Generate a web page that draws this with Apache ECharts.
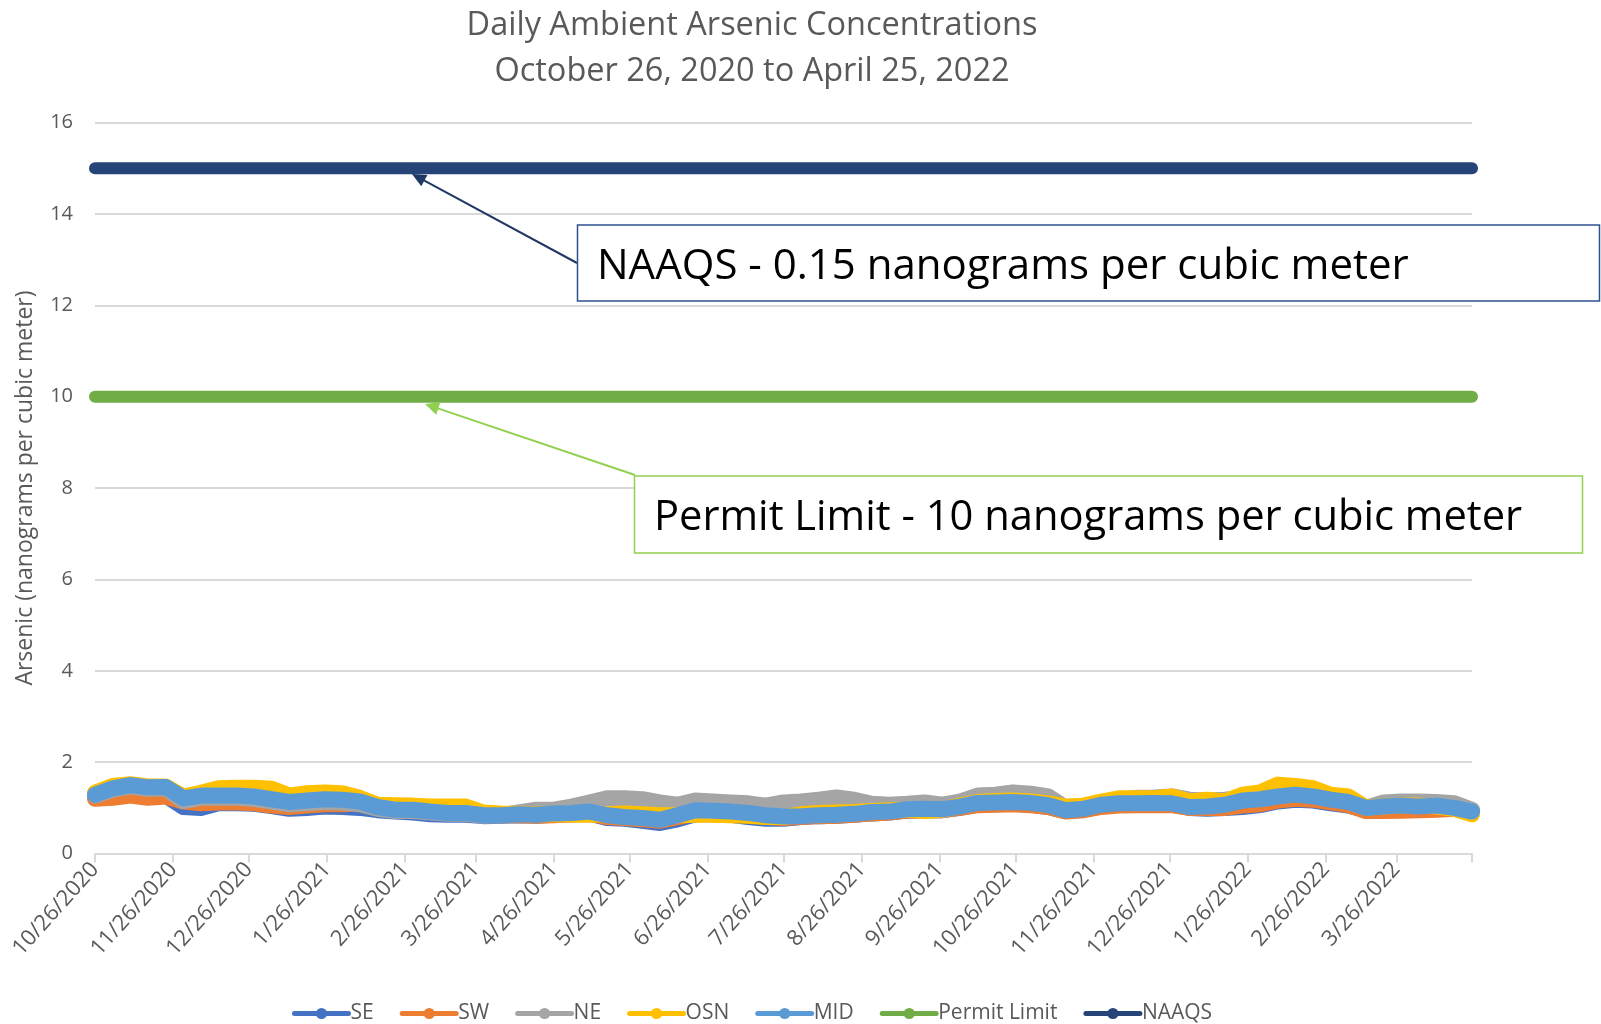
<!DOCTYPE html>
<html>
<head>
<meta charset="utf-8">
<script src="https://cdn.jsdelivr.net/npm/echarts@6/dist/echarts.min.js"></script>
<style>
html,body{margin:0;padding:0;background:#fff;}
#c{width:1601px;height:1024px;}
</style>
</head>
<body>
<div id="c"></div>
<script>
// ---- data (weekly readings, starting 10/26/2020, every 7 days) ----
const startDate = '2020-10-26';
const endDate = '2022-04-25';
const seriesNames = ['SE', 'SW', 'NE', 'OSN', 'MID', 'Permit Limit', 'NAAQS'];
const SE = [1.25,1.30,1.33,1.27,1.27,1.02,1.00,1.10,1.10,1.09,1.04,0.98,1.00,1.03,1.02,1.00,0.95,0.92,0.90,0.86,
            0.85,0.85,0.82,0.83,0.84,0.83,0.85,0.86,0.88,0.78,0.76,0.72,0.67,0.75,0.86,0.86,0.85,0.80,0.76,0.76,
            0.80,0.82,0.83,0.85,0.88,0.90,0.94,0.95,0.95,1.00,1.07,1.08,1.09,1.07,1.02,0.93,0.96,1.04,1.07,1.07,
            1.08,1.07,1.00,0.98,1.00,1.02,1.06,1.14,1.18,1.16,1.10,1.05,0.95,0.95,0.97,0.97,0.99,0.98,0.92];
const SW = [1.20,1.22,1.27,1.22,1.25,1.14,1.10,1.12,1.12,1.10,1.05,1.02,1.05,1.08,1.08,1.10,1.05,1.04,1.00,1.00,
            1.00,0.92,0.85,0.84,0.84,0.83,0.84,0.86,0.88,0.80,0.78,0.75,0.72,0.80,0.88,0.88,0.86,0.84,0.80,0.78,
            0.80,0.82,0.83,0.85,0.88,0.90,0.94,0.95,0.95,1.00,1.06,1.07,1.08,1.06,1.02,0.92,0.95,1.02,1.05,1.06,
            1.06,1.06,1.00,1.00,1.00,1.05,1.08,1.16,1.20,1.18,1.12,1.06,0.93,0.93,0.94,0.95,0.96,0.98,0.92];
const NE = [1.27,1.40,1.47,1.42,1.43,1.15,1.22,1.22,1.22,1.20,1.14,1.08,1.10,1.13,1.12,1.08,0.98,0.93,0.93,0.90,
            0.87,0.87,0.83,0.84,0.90,0.96,0.96,1.03,1.12,1.21,1.21,1.19,1.12,1.07,1.16,1.14,1.12,1.10,1.05,1.12,
            1.14,1.18,1.23,1.18,1.09,1.07,1.09,1.12,1.07,1.14,1.27,1.29,1.34,1.31,1.25,1.00,1.02,1.10,1.18,1.22,
            1.23,1.25,1.18,1.16,1.18,1.22,1.25,1.35,1.35,1.32,1.22,1.18,1.00,1.12,1.14,1.14,1.13,1.10,0.96];
const OSN = [1.33,1.48,1.52,1.47,1.47,1.25,1.33,1.43,1.44,1.44,1.42,1.27,1.32,1.34,1.32,1.22,1.07,1.06,1.05,1.03,
            1.03,1.03,0.90,0.88,0.87,0.86,0.86,0.85,0.85,0.86,0.88,0.86,0.84,0.84,0.85,0.85,0.84,0.83,0.80,0.80,
            0.86,0.89,0.90,0.91,0.93,0.95,0.96,0.93,0.96,1.05,1.13,1.15,1.16,1.14,1.10,1.03,1.05,1.14,1.21,1.21,
            1.21,1.25,1.14,1.18,1.14,1.29,1.34,1.51,1.48,1.43,1.29,1.25,1.01,1.03,1.05,1.05,1.03,0.98,0.86];
const MID = [1.29,1.43,1.50,1.45,1.46,1.21,1.27,1.27,1.27,1.25,1.19,1.13,1.16,1.19,1.18,1.14,1.02,0.96,0.96,0.92,
            0.89,0.89,0.84,0.84,0.86,0.85,0.88,0.89,0.92,0.84,0.80,0.78,0.74,0.84,0.95,0.94,0.92,0.89,0.84,0.81,
            0.82,0.84,0.85,0.87,0.91,0.92,0.97,0.98,0.97,1.03,1.11,1.12,1.13,1.11,1.06,0.95,0.98,1.07,1.10,1.10,
            1.11,1.10,1.02,1.03,1.07,1.16,1.19,1.25,1.29,1.25,1.18,1.13,1.00,1.03,1.05,1.03,1.05,1.00,0.92];
const permitLimit = 10;
const naaqs = 15;
const yTicks = {min: 0, max: 16, interval: 2};

// ---- build axis categories (daily) ----
function fmt(d){ return (d.getUTCMonth()+1) + '/' + d.getUTCDate() + '/' + d.getUTCFullYear(); }
const days = [];
{
  let d = new Date(startDate + 'T00:00:00Z');
  const e = new Date(endDate + 'T00:00:00Z');
  while (d <= e) { days.push(fmt(d)); d = new Date(d.getTime() + 86400000); }
}
const sampleDates = [];
for (let i = 0; i < MID.length; i++) sampleDates.push(days[i * 7]);
function pairs(arr){ return arr.map((v, i) => [sampleDates[i], v]); }

const colors = {SE:'#4472C4', SW:'#ED7D31', NE:'#A5A5A5', OSN:'#FFC000', MID:'#5B9BD5', 'Permit Limit':'#70AD47', NAAQS:'#264478'};
const values = {SE, SW, NE, OSN, MID};

const chart = echarts.init(document.getElementById('c'), null, {renderer:'canvas'});
const FONT = 'Open Sans';

const series = ['SE','SW','NE','OSN','MID'].map(n => ({
  name: n, type: 'line', data: pairs(values[n]),
  symbol: 'circle', symbolSize: 12, showSymbol: false, smooth: false,
  lineStyle: {width: 16, color: colors[n], cap: 'round', join: 'round'},
  itemStyle: {color: colors[n]},
  animation: false, z: 2
}));
series.push({
  name: 'Permit Limit', type: 'line',
  data: [[days[0], permitLimit], [days[days.length-1], permitLimit]],
  symbol: 'circle', symbolSize: 12, showSymbol: false,
  lineStyle: {width: 12, color: colors['Permit Limit'], cap: 'round'},
  itemStyle: {color: colors['Permit Limit']}, animation: false, z: 2
});
series.push({
  name: 'NAAQS', type: 'line',
  data: [[days[0], naaqs], [days[days.length-1], naaqs]],
  symbol: 'circle', symbolSize: 12, showSymbol: false,
  lineStyle: {width: 12, color: colors['NAAQS'], cap: 'round'},
  itemStyle: {color: colors['NAAQS']}, animation: false, z: 2
});

function arrow(x1, y1, x2, y2, color, w) {
  const dx = x2 - x1, dy = y2 - y1, L = Math.hypot(dx, dy);
  const ux = dx / L, uy = dy / L, hl = 14, hw = 6.5;
  const bx = x2 - ux * hl, by = y2 - uy * hl;
  const nx = -uy, ny = ux;
  return [
    {type:'line', shape:{x1, y1, x2: bx + ux*2, y2: by + uy*2}, style:{stroke: color, lineWidth: w}, z: 10},
    {type:'polygon', shape:{points:[[x2,y2],[bx+nx*hw,by+ny*hw],[bx-nx*hw,by-ny*hw]]}, style:{fill: color}, z: 10}
  ];
}

const graphics = [].concat(
  arrow(577, 263, 412, 174, '#203864', 2),
  arrow(635, 475, 425, 404, '#92D050', 2),
  [
    {type:'rect', shape:{x: 577.5, y: 225, width: 1022, height: 76}, style:{fill:'#fff', stroke:'#2F528F', lineWidth: 1.5}, z: 11},
    {type:'text', x: 597, y: 267, style:{text:'NAAQS - 0.15 nanograms per cubic meter', font:'42px "' + FONT + '"', fill:'#000', textVerticalAlign:'middle'}, z: 12},
    {type:'rect', shape:{x: 634.5, y: 476, width: 948, height: 77}, style:{fill:'#fff', stroke:'#92D050', lineWidth: 1.5}, z: 11},
    {type:'text', x: 654, y: 518, style:{text:'Permit Limit - 10 nanograms per cubic meter', font:'41.7px "' + FONT + '"', fill:'#000', textVerticalAlign:'middle'}, z: 12}
  ]
);

chart.setOption({
  animation: false,
  backgroundColor: '#fff',
  title: {
    text: 'Daily Ambient Arsenic Concentrations\nOctober 26, 2020 to April 25, 2022',
    left: 747, top: -2, textAlign: 'center',
    textStyle: {fontFamily: FONT, fontSize: 32.5, fontWeight: 'normal', color: '#595959', lineHeight: 46}
  },
  legend: {
    data: seriesNames, left: 287, top: 998,
    itemWidth: 54, itemHeight: 14, itemGap: 26,
    textStyle: {fontFamily: FONT, fontSize: 21, color: '#595959', padding: [0,0,0,-3]},
    lineStyle: {width: 5}
  },
  grid: {left: 95, right: 129, top: 122.5, bottom: 170.4, containLabel: false},
  xAxis: {
    type: 'category', data: days, boundaryGap: false,
    axisLine: {lineStyle: {color: '#D9D9D9', width: 2}},
    axisTick: {show: true, length: 9, lineStyle: {color: '#D9D9D9', width: 2},
      interval: (i, v) => v.split('/')[1] === '26' || i === days.length - 1},
    axisLabel: {rotate: 48, margin: 12, color: '#595959', fontFamily: FONT, fontSize: 22,
      interval: (i, v) => v.split('/')[1] === '26'},
    splitLine: {show: false}
  },
  yAxis: {
    type: 'value', min: yTicks.min, max: yTicks.max, interval: yTicks.interval,
    name: 'Arsenic (nanograms per cubic meter)', nameLocation: 'middle', nameGap: 58,
    nameTextStyle: {fontFamily: FONT, fontSize: 23, color: '#595959'},
    axisLine: {show: false}, axisTick: {show: false},
    axisLabel: {color: '#595959', fontFamily: FONT, fontSize: 20, margin: 22},
    splitLine: {lineStyle: {color: '#D9D9D9', width: 2}}
  },
  series: series,
  graphic: graphics
});
</script>
</body>
</html>
